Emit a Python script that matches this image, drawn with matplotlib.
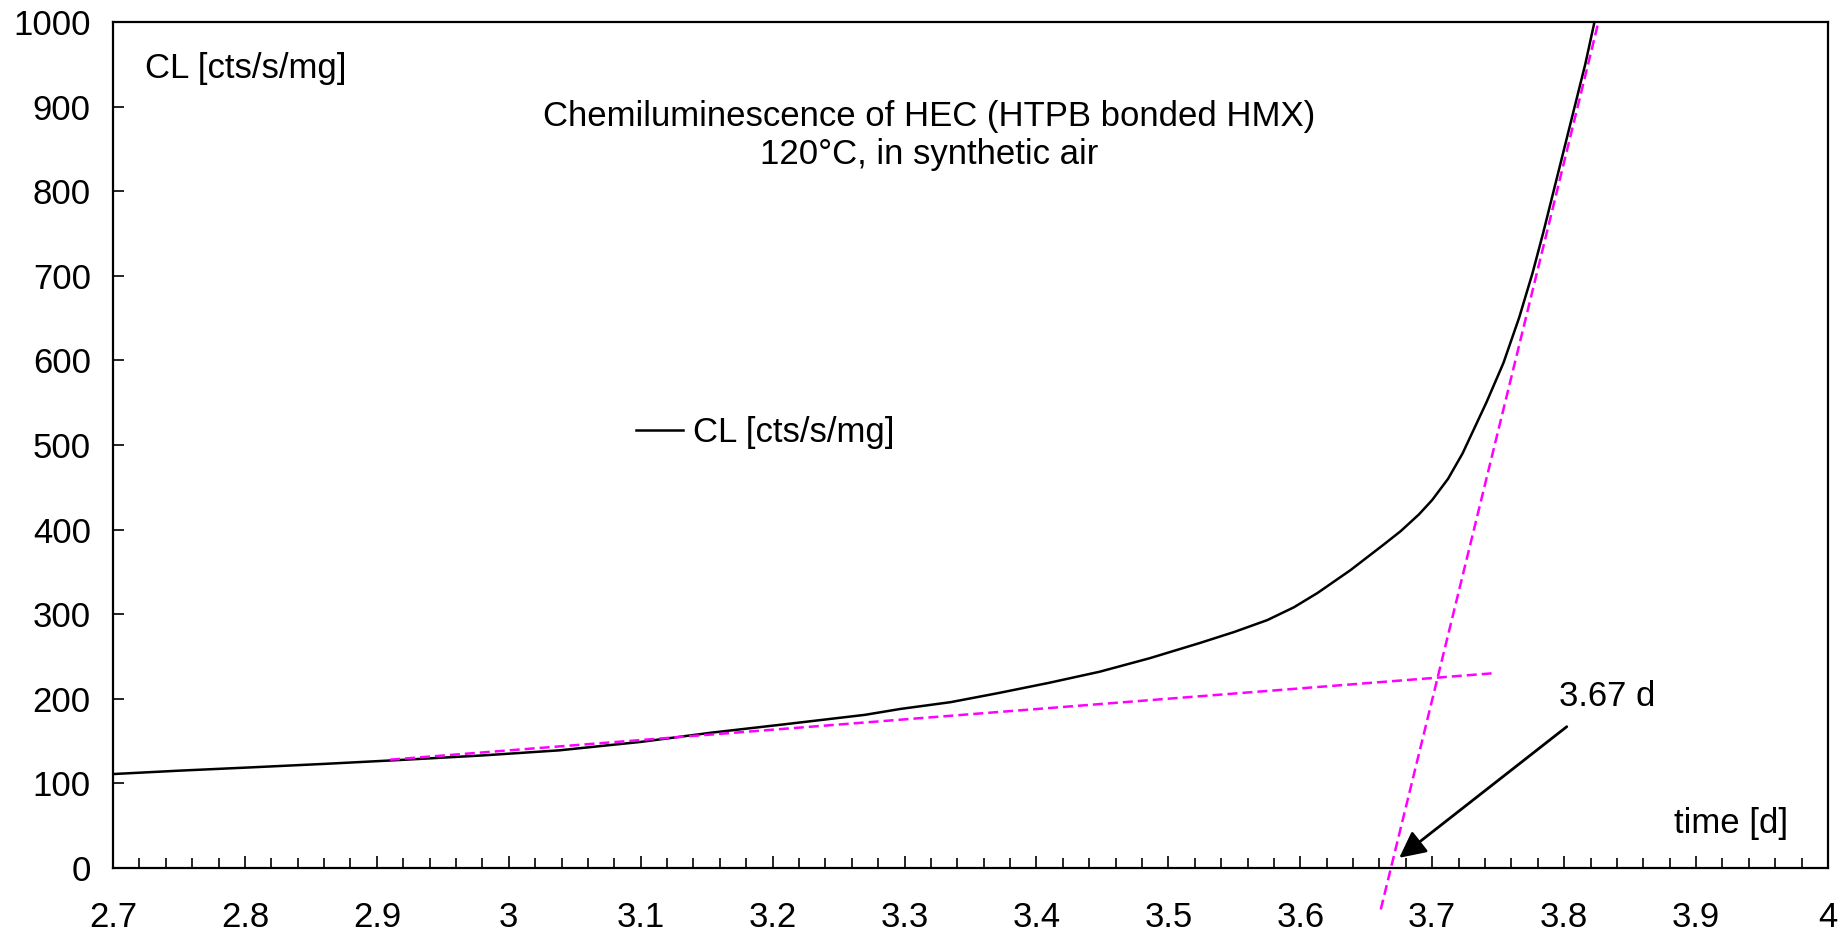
import matplotlib
matplotlib.use("Agg")
import matplotlib.pyplot as plt
from matplotlib.ticker import MultipleLocator

plt.rcParams['font.family'] = ['Liberation Sans', 'DejaVu Sans']

# CL-Kurve
zeit = [2.70, 2.75, 2.806, 2.86, 2.922, 2.98, 3.038, 3.10, 3.154, 3.21,
        3.27, 3.297, 3.335, 3.372, 3.41, 3.448, 3.486, 3.524, 3.55, 3.575,
        3.595, 3.613, 3.638, 3.663, 3.676, 3.69, 3.70, 3.712, 3.723, 3.741,
        3.754, 3.766, 3.776, 3.784, 3.792, 3.800, 3.808, 3.816, 3.823]
cl = [111, 115, 119, 123, 128, 133, 139, 149, 160, 170,
      181, 188, 196, 207, 219, 232, 248, 266, 279, 293,
      308, 325, 352, 382, 398, 418, 435, 460, 490, 550,
      597, 651, 703, 750, 800, 850, 900, 950, 1000]

# Tangenten
tang1_x = [2.91, 3.745]
tang1_y = [128, 230]
tang2_x = [3.661, 3.826]
tang2_y = [-49, 1000]

fig = plt.figure(figsize=(18.47, 9.35), dpi=100)
ax = fig.add_axes([0.0612, 0.0717, 0.9285, 0.9048])

ax.plot(zeit, cl, color='black', lw=1.8, label='CL [cts/s/mg]')
ax.plot(tang1_x, tang1_y, color='#ff00ff', lw=1.8, dashes=(4, 2))
ax.plot(tang2_x, tang2_y, color='#ff00ff', lw=1.8, dashes=(4, 2), clip_on=False)

ax.set_xlim(2.7, 4)
ax.set_ylim(0, 1000)
ax.xaxis.set_major_locator(MultipleLocator(0.1))
ax.xaxis.set_minor_locator(MultipleLocator(0.02))
ax.yaxis.set_major_locator(MultipleLocator(100))
ax.xaxis.set_major_formatter(plt.FuncFormatter(lambda v, p: f'{v:g}'))

ax.tick_params(axis='x', which='major', direction='in', length=9, width=1.2,
               labelsize=25, pad=24)
ax.tick_params(axis='x', which='minor', direction='in', length=7, width=1.2)
ax.tick_params(axis='y', direction='in', length=8, width=1.2, labelsize=25, pad=16)
for s in ax.spines.values():
    s.set_linewidth(1.6)

ax.text(2.724, 945, 'CL [cts/s/mg]', fontsize=25, va='center', ha='left')
ax.text(3.97, 52, 'time [d]', fontsize=25, va='center', ha='right')
ax.text(3.319, 866, 'Chemiluminescence of HEC (HTPB bonded HMX)\n120°C, in synthetic air',
        fontsize=25, ha='center', va='center', linespacing=1.2)

ax.text(3.833, 203, '3.67 d', fontsize=25, ha='center', va='center')
ax.annotate('', xy=(3.675, 12), xytext=(3.802, 167),
            arrowprops=dict(arrowstyle='-|>', color='black', lw=2,
                            mutation_scale=40, shrinkA=0, shrinkB=0))

ax.legend(loc='center left', bbox_to_anchor=(0.305, 0.515), frameon=False,
          fontsize=25, handlelength=1.35, handletextpad=0.3, borderpad=0,
          borderaxespad=0)

fig.savefig('out.png', dpi=100)
